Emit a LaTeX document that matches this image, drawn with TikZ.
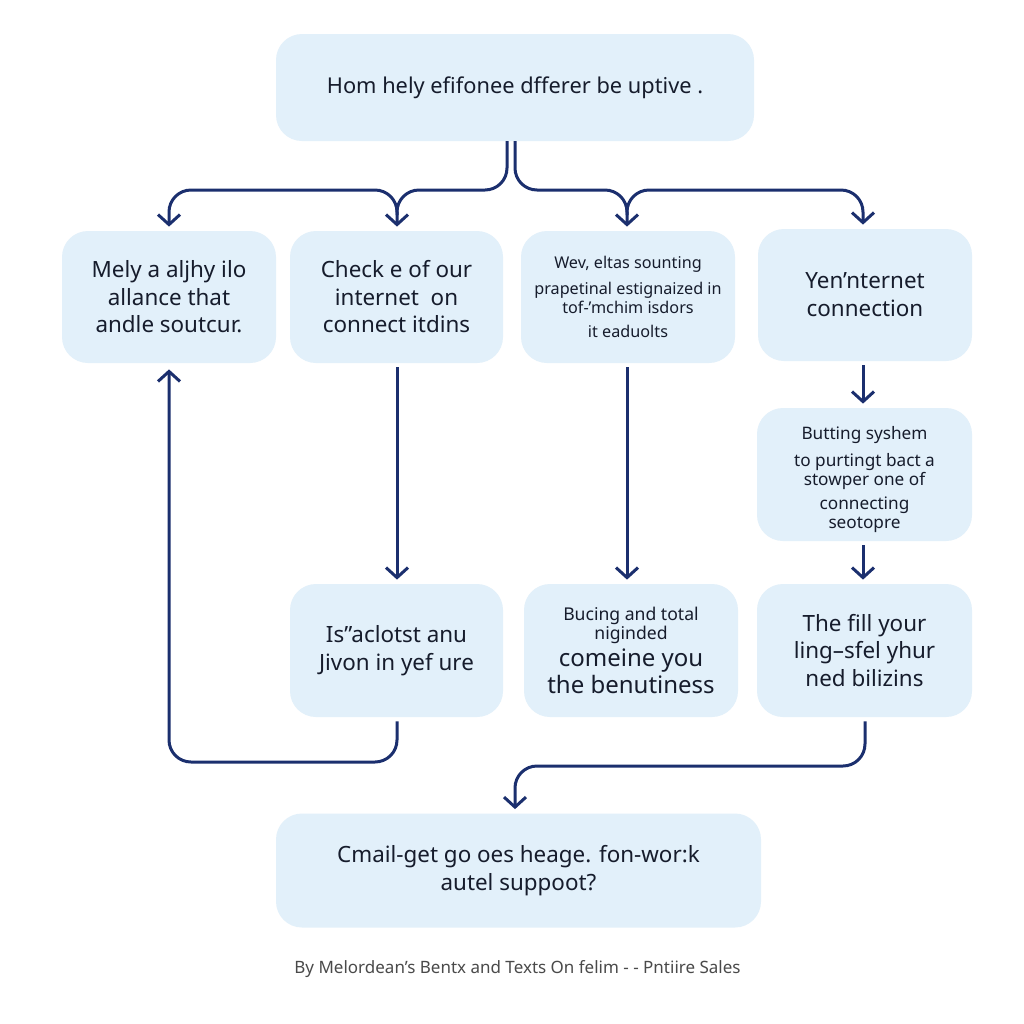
\documentclass[tikz,border=0pt]{standalone}
\usepackage{fontspec}
\setmainfont{Noto Sans}
\usetikzlibrary{arrows.meta}
\definecolor{boxblue}{HTML}{E2F0FA}
\definecolor{navy}{HTML}{1B2F6E}
\definecolor{txt}{HTML}{161C2C}
\definecolor{foot}{HTML}{4A4A4A}
\tikzset{
  box/.style={rounded corners=13pt, fill=boxblue, text=txt, align=center, inner sep=0pt},
  conn/.style={draw=navy, line width=1.5pt, rounded corners=11pt,
    -{Straight Barb[length=5pt,width=11pt,line width=1.5pt]}, shorten >=2pt},
  big/.style={font=\fontsize{11.2}{14}\selectfont},
  mid/.style={font=\fontsize{11.2}{13.75}\selectfont},
  small/.style={font=\fontsize{8.5}{9.5}\selectfont}
}
\begin{document}
\begin{tikzpicture}[x=0.5pt,y=-0.5pt]
\useasboundingbox[fill=white] (0,0) rectangle (1024,1024);

% boxes
\node[box,font=\fontsize{10.9}{14}\selectfont,minimum width=239pt,minimum height=53.5pt] (top) at (515,87.5)
  {Hom hely efifonee dfferer be uptive .};
\node[box,mid,minimum width=107pt,minimum height=66pt] (A) at (169,297)
  {Mely a aljhy ilo\\allance that\\andle soutcur.};
\node[box,mid,minimum width=106.5pt,minimum height=66pt] (B) at (396.5,297)
  {Check e of our\\internet\ \ on\\connect itdins};
\node[box,font=\fontsize{8.1}{9.5}\selectfont,minimum width=107pt,minimum height=66pt] (C) at (628,297)
  {Wev, eltas sounting\\[3.5pt]prapetinal estignaized in\\tof-’mchim isdors\\[2.5pt]it eaduolts};
\node[box,big,minimum width=107pt,minimum height=66pt,text depth=1pt] (D) at (865,295)
  {Yen’nternet\\connection};
\node[box,font=\fontsize{8.6}{9.5}\selectfont,minimum width=107.5pt,minimum height=66.5pt] (E) at (864.5,474.5)
  {\rule{0pt}{11.5pt}Butting syshem\\[4pt]to purtingt bact a\\stowper one of\\[2.5pt]connecting\\seotopre};
\node[box,mid,minimum width=106.5pt,minimum height=66.5pt] (F) at (396.5,650.5)
  {Is”aclotst anu\\Jivon in yef ure};
\node[box,minimum width=107pt,minimum height=66.5pt] (G) at (631,650.5)
  {\fontsize{8.8}{9.5}\selectfont Bucing and total\\[-2.5pt]\fontsize{8.8}{9.5}\selectfont niginded\\[1.5pt]
   \fontsize{12}{13.5}\selectfont comeine you\\[1.5pt]\fontsize{12}{13.5}\selectfont the benutiness};
\node[box,mid,minimum width=107.5pt,minimum height=66.5pt] (H) at (864.5,650.5)
  {The fill your\\ling–sfel yhur\\ned bilizins};
\node[box,big,minimum width=242.5pt,minimum height=57pt] (bot) at (518.5,870.5)
  {Cmail-get go oes heage. fon-wor:k\\autel suppoot?};

\node[text=foot,font=\fontsize{8.5}{10}\selectfont] (footer) at (517.5,969)
  {By Melordean’s Bentx and Texts On felim - - Pntiire Sales};

% top branches
\coordinate (tl) at (507,141);
\coordinate (tr) at (515,141);
\coordinate (jB) at (397,215);
\coordinate (jC) at (627,215);
\draw[conn] (tl) -- (507,190) -- (397,190) -- (B.north -| 397,0);
\draw[conn] (jB) -- (397,190) -- (169,190) -- (A.north);
\draw[conn] (tr) -- (515,190) -- (627,190) -- (C.north -| 627,0);
\draw[conn] (jC) -- (627,190) -- (863,190) -- (D.north -| 863,0);

% verticals
\draw[conn, shorten <=2pt] (B.south -| 397,0) -- (F.north -| 397,0);
\draw[conn, shorten <=2pt] (C.south -| 627,0) -- (G.north -| 627,0);
\draw[conn, shorten <=2pt] (D.south -| 863,0) -- (E.north -| 863,0);
\draw[conn, shorten <=2pt] (E.south -| 863,0) -- (H.north -| 863,0);

% loops
\draw[conn, shorten <=2pt, shorten >=3pt] (F.south -| 397,0) -- (397,762) -- (169,762) -- (A.south);
\draw[conn, shorten <=2pt] (H.south -| 865,0) -- (865,766) -- (515,766) -- (bot.north -| 515,0);
\end{tikzpicture}
\end{document}
